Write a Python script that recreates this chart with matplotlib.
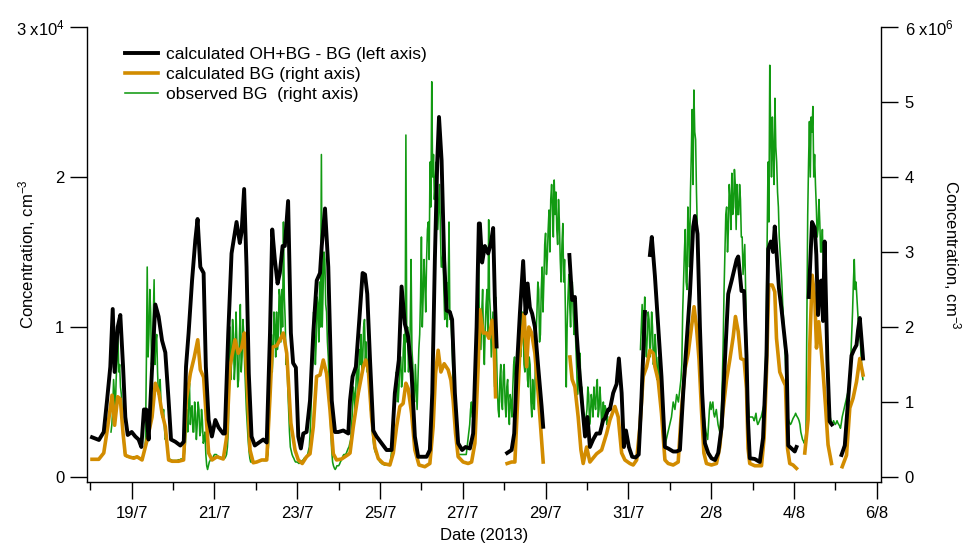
import numpy as np
import pandas as pd
import matplotlib
matplotlib.use("Agg")
import matplotlib.pyplot as plt
import matplotlib.dates as mdates
from matplotlib.ticker import FixedLocator, FuncFormatter

plt.rcParams['font.family'] = ['Liberation Sans', 'DejaVu Sans']
plt.rcParams['mathtext.fontset'] = 'custom'
plt.rcParams['mathtext.rm'] = 'Liberation Sans'
plt.rcParams['mathtext.it'] = 'Liberation Sans:italic'

nan = np.nan
t0 = pd.Timestamp('2013-07-18 00:00')

# ---- calculated OH+BG - BG (left axis), hours since 18/7 00:00 ----
black_h = [1, 5, 7.8, 9.7, 11.6, 13, 14.1, 15.9, 17.4, 19, 20.3, 21.7,
           24, 26.1, 28, 29.6, 31.1, 32.4, 33.8, 35.7, 37.7, 39.6, 41.6, 43.5, 45.4, 46.8,
           49.3, 52.2, 54.2, 55.5, 57, 59, 60.9, 62.2, 63.8, 65.7, 67, 68.6, 70.5,
           72.5, 74.4, 77, 78, 80, 81.9, 84.8, 86.7, 87.7, 89.2, 90.6, 91.9, 93.5, 95.4,
           98.4, 100.3, 102.3, 104.2, 105.5, 107, 108.6, 109.9, 111.5, 112.8, 114.7, 116.3, 117.6, 119.2,
           120.6, 122.1, 123.5, 125.4, 127.4, 129.3, 131.3, 133.2, 134.2, 136.1, 138, 140, 141.9, 143.8,
           146.7, 149.6, 150.6, 152.1, 154, 156, 157.9, 159.3, 160.6, 162.2, 164.1, 166,
           168.9, 171.8, 174.7, 176.6, 178.9, 180.5, 182.4, 184.3, 186.3, 188.2, 190.1,
           192.5, 195, 196.9, 198.3, 199.8, 201.2, 202.2, 203.7, 205.2, 206.6, 208.5, 209.8, 211.4, 213.3, 215.6,
           217.6, 220.1, 222, 224, 225.3, 225.9, 227.2, 228.8, 230.7, 232.3, 233.6, 234.6, 235.6, 236,
           241.7, 244.3, 245.8, 247.2, 249.1, 251, 252.4, 253.6, 254.9, 256.2, 257.8, 259.7, 261.7, 262.6, 263,
           277.8, 279.4, 281, 282, 283.4, 285, 286.9,
           288.3, 289.7, 291.6, 293.5, 295.5, 297.4, 298.4, 300.3, 301.3, 303.2, 305.2, 306.5, 308.1, 309.4, 310.6,
           312.3, 314.2, 316.2, 318, 319.5, 321.6, 322.5, 324.5, 325.6, 327.4, 329.3, 331.2, 333.2, 335.1,
           338, 339.9, 341.9, 343.8, 344.8, 347.7, 349.6, 350.6, 352.1, 353.5, 354.8, 356.4, 358.3,
           360.2, 362.2, 364.1, 366.1, 368, 369.9, 371.9, 374.8, 375.7, 377.6, 379.1, 380.5, 381.4, 382.4,
           385.3, 388.2, 390.1, 392.1, 393.1, 394.6, 395.9, 396.9, 397.9, 399.3, 400.8, 402.4, 403.7, 404.7, 406.6,
           408.5, 409.5, 410, 416.6, 418.5, 420.1, 421, 422, 423, 423.9, 424.9, 425.8, 427.4, 428.7, 430, 431,
           435.6, 437.5, 439.4, 441.4, 442.9, 444.3, 445.2, 446.2, 448.1]
black_v = [2650, 2470, 3000, 5100, 7350, 11200, 7000, 10000, 10800, 7350, 4000, 2800,
           3000, 2700, 2500, 2000, 4500, 4500, 2500, 7000, 11500, 10700, 9100, 8300, 5100, 2500,
           2350, 2100, 2350, 7350, 9600, 13100, 15800, 17200, 14000, 13600, 7350, 3800, 2700,
           3800, 3300, 2900, 2900, 9600, 14900, 17000, 15600, 16300, 19200, 14000, 6900, 2700, 2100,
           2350, 2500, 2300, 9600, 16500, 14500, 12900, 13600, 15400, 15400, 18400, 9600, 7600, 7300,
           2700, 1900, 2900, 3000, 5100, 9600, 13100, 13600, 15400, 17900, 14000, 5100, 3000, 3000,
           3100, 2900, 5100, 6700, 7350, 10500, 13600, 13500, 12200, 7800, 3100, 2700,
           2250, 1800, 1800, 5600, 7800, 12700, 10200, 9350, 6900, 2700, 1350,
           1350, 1350, 1800, 5600, 14500, 21100, 24000, 21100, 14500, 11100, 11000, 10500, 5600, 2250, 1800,
           2000, 1900, 2900, 10000, 16900, 16900, 14300, 15400, 14900, 15600, 16600, 11800, 8700, nan,
           1600, 1800, 2900, 6900, 10900, 14400, 10900, 12900, 11300, 10900, 10000, 7350, 4700, 3350, nan,
           14800, 11800, 12000, 9600, 7300, 5100, 2700,
           4000, 2000, 2500, 2900, 2900, 3800, 3900, 4500, 4500, 5600, 6200, 7900, 5600, 2000, 3100,
           2000, 1350, 1300, 1500, 5000, 11000, nan, 14800, 16000, 13400, 10000, 6700, 2000, 1900,
           1700, 1700, 1800, 5600, 7350, 12200, 16700, 17400, 16200, 10000, 5600, 2250, 1600,
           1250, 1130, 1600, 3350, 7800, 12200, 13100, 14500, 14700, 12400, 12400, 8100, 3700, 1250,
           1200, 1000, 2600, 8100, 15200, 15700, 15000, 16700, 15000, 12600, 11200, 9500, 8100, 2100, 1900,
           1700, 2000, nan, 12000, 17000, 16600, 14800, 10800, 13000, 13100, 10400, 15700, 7800, 3700, 3500, nan,
           1470, 2100, 5100, 8100, 8500, 8800, 9800, 10600, 7900]

# ---- calculated BG (right axis, units of 1e6 cm-3) ----
orange_h = [1.0, 4.9, 7.8, 10.1, 12.6, 14.1, 15.9, 17.4, 19.0, 20.3, 22.3, 25.2, 27.1, 30.0, 31.9, 32.9,
            35.8, 37.7, 39.7, 41.6, 43.5, 45.4, 47.4, 51.2, 54.1, 55.7, 58.0, 60.3, 62.3, 63.8, 65.7,
            67.2, 68.6, 70.6, 73.4, 77.1, 79.1, 81.0, 83.9, 85.8, 87.8, 89.3, 90.7, 92.6, 94.5, 96.5,
            99.4, 102.3, 104.2, 105.5, 108.1, 110.0, 111.9, 113.9, 116.3, 118.7, 120.6, 122.9, 125.4,
            127.4, 129.3, 131.2, 133.2, 135.1, 137.0, 139.0, 140.9, 142.8, 145.7, 149.6, 150.6, 152.5,
            155.4, 158.3, 159.7, 161.2, 163.1, 165.0, 167.0, 169.9, 173.7, 175.7, 177.6, 179.5, 181.4,
            183.0, 184.3, 186.3, 188.2, 190.6, 194.0, 196.9, 198.8, 200.2, 201.7, 203.3, 205.2, 207.5,
            209.1, 210.4, 211.8, 213.3, 216.2, 219.1, 221.1, 223.0, 224.9, 225.9, 227.8, 229.8, 231.1,
            233.0, 234.2, 235.0, 235.5, 241.7, 244.3, 246.2, 247.8, 249.1, 250.4, 251.6, 253.0, 254.3,
            255.9, 257.8, 259.7, 261.1, 262.6, 263, 278.1, 279.4, 281.0, 282.9, 284.5, 285.8, 287.8,
            289.7, 293.6, 296.5, 299.4, 301.3, 304.2, 306.1, 308.1, 310.0, 312.9, 314.8, 316.8, 318.7,
            320.6, 322.6, 324.5, 326.4, 327.4, 329.3, 331.2, 333.2, 335.1, 338.0, 340.9, 342.8, 344.8,
            346.7, 348.6, 350.1, 351.5, 353.0, 354.4, 355.8, 357.3, 360.2, 363.1, 365.0, 366.9, 368.9,
            370.8, 372.8, 374.1, 375.7, 377.2, 379.1, 380.5, 381.4, 382.4, 385.3, 389.2, 390.7, 392.1,
            393.4, 395.4, 396.9, 397.9, 399.8, 401.7, 403.1, 404.3, 405.6, 407.5, 409.5, 410, 414.3,
            416.2, 417.2, 418.6, 420.1, 421.1, 422.4, 423.6, 424.9, 426.3, 427.8, 429.8, 430.5, 436.0,
            438.5, 440.4, 442.3, 444.3, 446.2, 448.1]
orange_v = [0.236, 0.236, 0.32, 0.67, 1.09, 0.69, 1.07, 1.04, 0.58, 0.29, 0.27, 0.25, 0.27, 0.227, 0.40, 0.49,
            0.80, 1.25, 1.13, 0.85, 0.67, 0.227, 0.21, 0.21, 0.227, 1.03, 1.38, 1.60, 1.83, 1.43, 1.33,
            0.80, 0.32, 0.227, 0.27, 0.24, 0.54, 1.47, 1.83, 1.65, 1.73, 1.92, 1.38, 0.36, 0.19, 0.20,
            0.227, 0.227, 1.07, 1.73, 1.75, 1.83, 1.92, 1.65, 0.72, 0.36, 0.227, 0.18, 0.27,
            0.31, 0.67, 1.34, 1.36, 1.56, 1.38, 0.89, 0.31, 0.227, 0.24, 0.30, 0.32, 0.67,
            1.12, 1.47, 1.56, 1.43, 0.80, 0.40, 0.245, 0.18, 0.16, 0.32, 0.67, 0.94, 0.98,
            1.25, 1.18, 0.85, 0.36, 0.16, 0.137, 0.18, 0.67, 1.38, 1.69, 1.40, 1.51, 1.43,
            1.29, 1.02, 0.58, 0.27, 0.20, 0.18, 0.20, 0.45, 1.47, 2.23, 1.92, 1.92, 1.85,
            2.09, 1.73, 1.07, nan, 0.18, 0.20, 0.20, 1.03, 1.69, 1.92, 2.18, 1.47, 2.0,
            1.92, 1.65, 1.12, 0.67, 0.20, nan, 1.60, 1.30, 1.20, 0.80, 0.36, 0.18, 0.40,
            0.20, 0.31, 0.36, 0.58, 0.76, 0.94, 0.80, 0.32, 0.227, 0.18, 0.16, 0.227, 0.67,
            1.34, 1.47, 1.69, 1.65, 1.47, 1.29, 0.85, 0.227, 0.18, 0.16, 0.20, 0.89, 1.43,
            1.65, 2.0, 2.27, 2.0, 1.56, 0.89, 0.32, 0.18, 0.16, 0.18, 0.40, 0.89, 1.29,
            1.56, 1.87, 2.14, 1.94, 1.58, 1.56, 1.18, 0.38, 0.18, 0.15, 0.15, 0.52, 1.40,
            2.56, 2.56, 2.47, 1.85, 1.40, 1.29, 1.22, 0.38, 0.18, 0.16, 0.115, nan, 0.32,
            0.76, 1.76, 2.69, 2.38, 1.72, 2.07, 1.76, 1.40, 0.96, 0.43, 0.18, nan, 0.137,
            0.29, 0.92, 1.05, 1.27, 1.58, 1.36]

# ---- observed BG (right axis, units of 1e6 cm-3) ----
# values on the hour, from 18/7 00:00
green_v = (
    [nan] * 12 + [0.6, 0.9, 1.1, 1.3, 1.92, 1.5, 1.1, 0.6, 0.3, 0.27, 0.27, 0.26] +                        # 18/7
    [0.26, 0.27, 0.27, 0.26, 0.25, 0.24, 0.24, 0.3, 0.49, 2.8, 1.9, 2.2, 1.6, 2.63, 1.8, 1.4,
     1.1, 1.0, 0.8, 0.65, 0.55, 0.3, 0.24, 0.23] +                                                         # 19/7
    [0.22, 0.22, 0.22, 0.23, 0.23, 0.24, 0.25, 0.4, 0.9, 1.0, 0.7, 0.95, 0.6, 0.85, 0.7, 0.9,
     0.6, 0.75, 0.5, 0.3, 0.1, 0.2, 0.25, 0.25] +                                                          # 20/7
    [0.3, 0.3, 0.28, 0.27, 0.26, 0.25, 0.25, 0.3, 0.6, 2.0, 1.6, 1.9, 1.5, 1.8, 1.3, 2.3,
     1.6, 1.9, 1.2, 0.7, 0.35, 0.2, 0.2, 0.2] +                                                            # 21/7
    [0.2, 0.21, 0.22, 0.22, 0.23, 0.22, 0.22, 0.3, 1.0, 1.9, 1.7, 2.0, 2.2, 1.9, 2.4, 2.5,
     3.4, 2.1, 1.6, 0.9, 0.4, 0.3, 0.25, 0.2] +                                                            # 22/7
    [0.2, 0.18, 0.2, 0.22, 0.25, 0.27, 0.3, 0.4, 0.9, 1.6, 2.0, 1.8, 2.3, 2.6, 4.3, 2.5,
     2.9, 2.2, 1.6, 0.9, 0.35, 0.15, 0.1, 0.15] +                                                          # 23/7
    [0.15, 0.2, 0.25, 0.3, 0.3, 0.35, 0.4, 0.5, 0.89, 1.1, 1.2, 1.4, 1.7, 1.9, 1.6, 2.1,
     1.8, 1.5, 1.2, 0.8, 0.5, 0.35, 0.3, 0.25] +                                                           # 24/7
    [0.2, 0.18, 0.17, 0.16, 0.16, 0.17, 0.2, 0.4, 0.8, 1.0, 1.3, 1.2, 1.6, 1.3, 1.9, 4.56,
     2.0, 1.6, 2.9, 1.5, 1.0, 1.2, 1.3, 1.9] +                                                             # 25/7
    [3.2, 2.4, 2.6, 2.9, 3.4, 4.2, 5.27, 4.3, 3.9, 4.1, 3.6, 3.3, 2.8, 2.5, 2.2, 2.0,
     3.4, 2.2, 1.6, 1.0, 0.6, 0.35, 0.3, 0.3] +                                                            # 26/7
    [0.3, 0.3, 0.3, 0.5, 0.7, 1.0, 0.8, 1.1, 1.2, 3.3, 2.0, 2.2, 1.8, 2.0, 2.5, 3.43,
     2.2, 1.9, 1.5, 2.4, 1.2, 0.8, 1.5, 0.9] +                                                             # 27/7
    [1.5, 0.8, 1.3, 0.7, 1.0, 1.2, 1.6, 1.0, 1.7, 2.2, 1.8, 2.0, 1.4, 1.7, 1.2, 1.5,
     0.8, 1.0, 1.4, 2.2, 2.5, 1.9, 2.8, 2.6] +                                                             # 28/7
    [3.25, 2.9, 3.56, 3.7, 3.6, 3.96, 3.8, 3.1, 3.4, 2.6, 3.38, 2.9, 1.2, 2.4, 2.3, 2.5,
     2.2, 2.1, 1.47, 1.25, 1.65, 1.2, 0.8, 0.6] +                                                          # 29/7
    [0.9, 1.1, 0.8, 1.0, 1.2, 0.9, 1.3, 0.9, 1.0, 0.8, 0.75, 0.9, 0.8] + [nan] * 11 +                      # 30/7
    [nan] * 7 + [1.7, 2.3, 2.1, 1.8, 1.9, 2.1, 1.8, 2.0, 1.6, 1.7, 1.4, 1.2, 0.9, 0.6, 0.4, 0.5, 0.6] +     # 31/7
    [0.7, 0.8, 1.0, 0.9, 1.1, 1.0, 1.2, 1.5, 2.6, 3.3, 2.5, 3.3, 3.8, 4.9, 5.16, 4.5,
     3.3, 2.7, 1.5, 1.0, 0.8, 0.6, 0.5, 0.9] +                                                             # 1/8
    [0.9, 1.0, 0.8, 0.9, 0.7, 0.6, 0.9, 1.8, 3.0, 3.6, 3.3, 3.7, 4.05, 3.6, 3.9, 3.9,
     3.5, 3.7, 3.2, 2.9, 2.5, 1.3, 0.8, 0.8] +                                                             # 2/8
    [0.8, 0.75, 0.85, 0.7, 0.75, 0.8, 0.9, 1.0, 2.0, 4.2, 5.49, 4.0, 4.3, 5.05, 4.2, 3.6,
     3.0, 2.6, 2.1, 1.6, 0.9, 0.75, 0.7, 0.75] +                                                           # 3/8
    [0.8, 0.85, 0.8, 0.75, 0.6, 0.5, 0.45, 0.6, 3.5, 4.74, 4.8, 4.94, 4.3, 3.6, 3.3, 3.4,
     3.0, 2.9, 2.4, 2.0, 1.0, 0.8, 0.7, 0.75] +                                                            # 4/8
    [0.7, 0.75, 0.7, 0.65, 0.8, 0.9, 1.0, 1.1, 1.2, 1.6, 2.2, 2.9, 2.6, 2.2, 2.1, 1.6, 1.3]                # 5/8
)
# values on the half hour (h + 0.5), same days
green_mid = (
    [nan] * 12 + [0.7, 1.3, 0.9, 1.6, 1.4, 1.2, 0.8, 0.4, 0.28, 0.27, 0.26, 0.26] +                        # 18/7
    [0.26, 0.27, 0.26, 0.25, 0.25, 0.24, 0.27, 0.35, 1.5, 1.6, 2.5, 1.5, 2.1, 1.5, 1.9, 1.1,
     1.3, 0.8, 0.9, 0.5, 0.45, 0.26, 0.23, 0.22] +                                                         # 19/7
    [0.22, 0.22, 0.22, 0.23, 0.24, 0.24, 0.3, 0.6, 0.6, 1.25, 0.9, 0.6, 1.0, 0.5, 1.0, 0.55,
     0.9, 0.45, 0.6, 0.15, 0.15, 0.22, 0.25, 0.28] +                                                       # 20/7
    [0.3, 0.29, 0.27, 0.26, 0.25, 0.25, 0.27, 0.4, 1.3, 1.3, 2.1, 1.3, 2.2, 1.2, 1.9, 1.4,
     2.1, 1.5, 0.9, 0.5, 0.25, 0.2, 0.2, 0.2] +                                                            # 21/7
    [0.2, 0.21, 0.22, 0.22, 0.22, 0.22, 0.25, 0.5, 1.6, 1.4, 2.2, 1.6, 1.7, 2.5, 1.8, 2.0,
     2.4, 1.5, 1.2, 0.6, 0.35, 0.27, 0.22, 0.2] +                                                          # 22/7
    [0.19, 0.19, 0.21, 0.23, 0.26, 0.28, 0.35, 0.6, 1.3, 2.2, 1.5, 2.4, 1.8, 2.0, 2.0, 3.0,
     2.3, 1.8, 1.2, 0.6, 0.2, 0.12, 0.12, 0.15] +                                                          # 23/7
    [0.17, 0.22, 0.28, 0.3, 0.32, 0.38, 0.45, 0.7, 1.2, 0.9, 1.5, 1.1, 1.5, 1.4, 2.0, 1.5,
     1.4, 1.6, 0.9, 0.6, 0.4, 0.32, 0.27, 0.22] +                                                          # 24/7
    [0.19, 0.17, 0.16, 0.16, 0.16, 0.18, 0.3, 0.6, 1.1, 1.4, 1.0, 1.6, 1.2, 1.7, 1.4, 1.8,
     1.4, 2.0, 1.7, 1.1, 1.5, 0.9, 1.7, 2.4] +                                                             # 25/7
    [2.0, 2.9, 2.2, 3.3, 2.9, 3.6, 4.0, 3.7, 4.2, 3.3, 3.9, 2.8, 3.0, 2.1, 2.6, 2.4,
     2.1, 1.9, 1.2, 0.8, 0.45, 0.3, 0.3, 0.3] +                                                            # 26/7
    [0.3, 0.3, 0.4, 0.6, 0.9, 0.8, 1.1, 0.8, 1.6, 2.3, 1.7, 2.5, 1.5, 2.3, 1.9, 2.4,
     1.6, 2.2, 1.2, 1.7, 0.9, 1.3, 1.0, 1.4] +                                                             # 27/7
    [1.0, 1.2, 0.9, 1.1, 0.8, 1.5, 1.1, 1.5, 1.2, 1.6, 2.2, 1.5, 1.9, 1.3, 1.6, 1.0,
     1.3, 0.9, 1.9, 2.6, 1.8, 2.5, 2.2, 3.1] +                                                             # 28/7
    [2.7, 3.3, 3.0, 3.9, 3.2, 3.5, 3.3, 3.7, 2.9, 3.1, 2.6, 2.2, 2.0, 2.7, 2.0, 2.6,
     1.9, 1.8, 1.1, 1.6, 1.0, 1.0, 0.7, 0.8] +                                                             # 29/7
    [1.2, 0.7, 1.1, 0.8, 1.0, 1.2, 0.8, 1.2, 0.7, 1.0, 0.95, 0.7, nan] + [nan] * 11 +                      # 30/7
    [nan] * 7 + [2.0, 1.7, 2.4, 1.6, 2.2, 1.6, 2.2, 1.5, 1.9, 1.3, 1.6, 1.0, 0.7, 0.5, 0.45, 0.55, 0.65] +  # 31/7
    [0.75, 0.9, 0.95, 1.0, 1.05, 1.1, 1.3, 2.2, 3.0, 2.6, 3.6, 2.8, 4.3, 3.9, 4.6, 3.8,
     2.8, 2.0, 1.2, 0.9, 0.7, 0.55, 0.7, 1.0] +                                                            # 1/8
    [0.95, 0.85, 0.85, 0.8, 0.65, 0.75, 1.3, 2.5, 3.5, 3.0, 3.9, 3.3, 3.5, 4.1, 3.3, 3.5,
     3.9, 3.2, 2.7, 3.1, 1.8, 1.0, 0.8, 0.8] +                                                             # 2/8
    [0.78, 0.8, 0.75, 0.72, 0.78, 0.85, 0.95, 1.5, 3.2, 3.4, 4.6, 4.8, 3.9, 4.4, 3.8, 3.2,
     2.8, 2.3, 1.8, 1.2, 0.8, 0.72, 0.72, 0.78] +                                                          # 3/8
    [0.82, 0.82, 0.78, 0.7, 0.55, 0.48, 0.5, 2.0, 4.2, 4.0, 4.6, 4.0, 3.9, 3.2, 3.7, 3.0,
     3.3, 2.6, 2.2, 1.5, 0.9, 0.75, 0.72, 0.72] +                                                          # 4/8
    [0.72, 0.72, 0.68, 0.72, 0.85, 0.95, 1.05, 1.15, 1.4, 1.9, 2.6, 2.5, 2.4, 2.0, 1.8, 1.4, nan]          # 5/8
)

major_dates = pd.date_range('2013-07-19', '2013-08-06', freq='2D')
minor_dates = pd.date_range('2013-07-18', '2013-08-05', freq='2D')

legend_labels = ['calculated OH+BG - BG (left axis)', 'calculated BG (right axis)',
                 'observed BG  (right axis)']

# ---------------------------------------------------------------
W, H = 968, 543
fig = plt.figure(figsize=(W / 100, H / 100), dpi=100)
L, R, T, B = 86.7, 881.0, 27.0, 482.0
ax = fig.add_axes([L / W, 1 - B / H, (R - L) / W, (B - T) / H])
ax2 = ax.twinx()
ax.set_zorder(ax2.get_zorder() + 1)
ax.patch.set_visible(False)

def to_time(hours):
    return mdates.date2num(t0 + pd.to_timedelta(np.asarray(hours, float), unit='h'))

n = len(green_v)
g_hours = np.empty(2 * n)
g_vals = np.empty(2 * n)
g_hours[0::2] = np.arange(n)
g_hours[1::2] = np.arange(n) + 0.5
g_vals[0::2] = green_v
g_vals[1::2] = green_mid

tb = to_time(black_h)
to = to_time(orange_h)
tg = to_time(g_hours)

lg, = ax2.plot(tg, g_vals * 1e6, color='#129a12', lw=1.15, zorder=1, label=legend_labels[2])
lo, = ax2.plot(to, np.array(orange_v) * 1e6, color='#d28c00', lw=2.6, zorder=2, label=legend_labels[1])
lb, = ax.plot(tb, np.array(black_v), color='black', lw=2.8, zorder=3, label=legend_labels[0])

x0 = mdates.date2num(t0 - pd.Timedelta(hours=2.09))
x1 = mdates.date2num(t0 + pd.Timedelta(hours=458.5))
ax.set_xlim(x0, x1)
ax.set_ylim(-333.3, 30000)
ax2.set_ylim(-66667, 6e6)

fs = 12
ax.set_yticks([0, 10000, 20000, 30000])
ax.set_yticklabels(['0', '1', '2', '3 x10$^{4}$'])
ax2.set_yticks([0, 1e6, 2e6, 3e6, 4e6, 5e6, 6e6])
ax2.set_yticklabels(['0', '1', '2', '3', '4', '5', '6 x10$^{6}$'])

ax.xaxis.set_major_locator(FixedLocator(mdates.date2num(major_dates)))
ax.xaxis.set_minor_locator(FixedLocator(mdates.date2num(minor_dates)))
ax.xaxis.set_major_formatter(FuncFormatter(
    lambda v, p: f"{mdates.num2date(v).day}/{mdates.num2date(v).month}"))

for a in (ax, ax2):
    a.spines['top'].set_visible(False)
    for s in a.spines.values():
        s.set_linewidth(1.0)
ax.spines['right'].set_visible(False)
ax2.spines['left'].set_visible(False)
ax2.spines['bottom'].set_visible(False)

ax.tick_params(axis='y', direction='out', length=12, width=1.0, labelsize=fs, pad=4)
ax2.tick_params(axis='y', direction='out', length=12, width=1.0, labelsize=fs, pad=5)
ax.tick_params(axis='x', which='major', direction='out', length=12, width=1.0, labelsize=fs, pad=5)
ax.tick_params(axis='x', which='minor', direction='out', length=6, width=1.0)

ax.set_xlabel('Date (2013)', fontsize=fs)
ax.xaxis.set_label_coords(0.5, -0.118)
ax.xaxis.label.set_va('center')
ax.set_ylabel('Concentration, cm$^{-3}$', fontsize=fs)
ax.yaxis.set_label_coords(-0.075, 0.5)
ax.yaxis.label.set_va('center')
ax2.set_ylabel('Concentration, cm$^{-3}$', fontsize=fs, rotation=270)
ax2.yaxis.set_label_coords(1.089, 0.5)
ax2.yaxis.label.set_va('center')

ax.legend(handles=[lb, lo, lg], loc='upper left', bbox_to_anchor=(125 / W, 1 - 46.5 / H),
          bbox_transform=fig.transFigure, frameon=False, fontsize=12.5,
          handlelength=1.9, handletextpad=0.46, labelspacing=0.29, borderpad=0, borderaxespad=0)

fig.savefig('out.png', dpi=100)
